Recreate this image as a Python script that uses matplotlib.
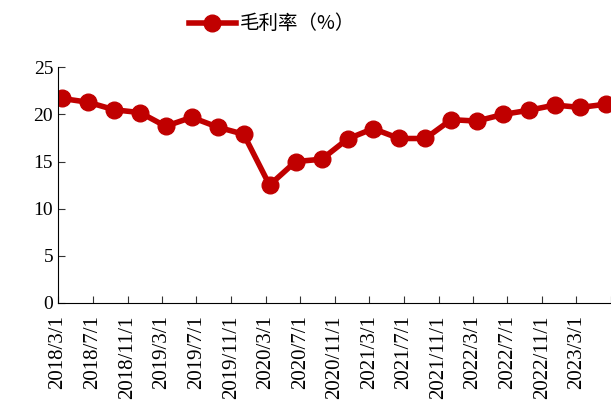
import pandas as pd
import matplotlib
matplotlib.use("Agg")
import matplotlib.pyplot as plt
import matplotlib.dates as mdates

# quarterly gross margin
quarters = ['2018-03', '2018-06', '2018-09', '2018-12',
            '2019-03', '2019-06', '2019-09', '2019-12',
            '2020-03', '2020-06', '2020-09', '2020-12',
            '2021-03', '2021-06', '2021-09', '2021-12',
            '2022-03', '2022-06', '2022-09', '2022-12',
            '2023-03', '2023-06']
margin = [21.7, 21.3, 20.5, 20.2,
          18.75, 19.7, 18.65, 17.9,
          12.5, 15.0, 15.25, 17.4,
          18.5, 17.45, 17.45, 19.45,
          19.3, 20.0, 20.45, 21.0,
          20.75, 21.1]
label = '毛利率（%）'

plt.rcParams['font.family'] = ['Liberation Serif', 'Noto Sans CJK SC']

dates = pd.to_datetime(quarters) + pd.Timedelta(days=14)
ticks = pd.date_range('2018-03-01', '2023-07-01', freq='4MS')

fig = plt.figure(figsize=(6.11, 4.16), dpi=100)
ax = fig.add_axes([0.095, 0.272, 0.905, 0.566])

ax.plot(dates, margin, color='#C00000', lw=4, marker='o', ms=12,
        label=label)

ax.set_ylim(0, 25)
ax.set_yticks([0, 5, 10, 15, 20, 25])
ax.set_xlim(ticks[0], ticks[-1])
ax.set_xticks(ticks)
ax.set_xticklabels([f"{d.year}/{d.month}/{d.day}" if i < len(ticks) - 1 else ''
                    for i, d in enumerate(ticks)], rotation=90)

for s in ['top', 'right']:
    ax.spines[s].set_visible(False)
ax.tick_params(direction='in', length=5, labelsize=14, color='#333333')
ax.tick_params(axis='x', pad=9, labelsize=15)

leg = fig.legend(loc='upper center', bbox_to_anchor=(0.445, 1.01), frameon=False,
                 prop={'family': ['Noto Sans CJK SC'], 'size': 14},
                 handlelength=2.4, handletextpad=0.2)

fig.savefig('out.png', dpi=100)
